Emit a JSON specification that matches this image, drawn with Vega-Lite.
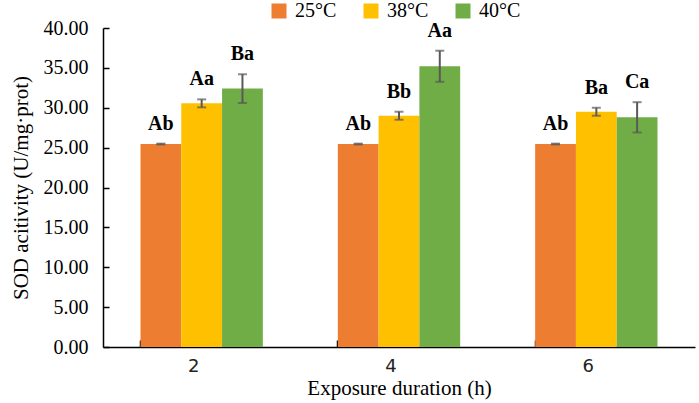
{
  "$schema": "https://vega.github.io/schema/vega-lite/v6.json",
  "width": 592,
  "height": 319,
  "autosize": "none",
  "padding": {"left": 103, "top": 28, "right": 4, "bottom": 56},
  "background": "white",
  "config": {
    "font": "Liberation Serif",
    "view": {"stroke": null},
    "axis": {"grid": false, "domainColor": "black", "domainWidth": 1.5, "tickColor": "black", "tickWidth": 1.5},
    "legend": {"labelFont": "Liberation Serif"}
  },
  "data": {
    "values": [
      {"Duration": "2", "Temp": "25°C", "SOD": 25.45, "low": 25.4, "high": 25.5, "Sig": "Ab"},
      {"Duration": "2", "Temp": "38°C", "SOD": 30.55, "low": 30.05, "high": 31.05, "Sig": "Aa"},
      {"Duration": "2", "Temp": "40°C", "SOD": 32.4, "low": 30.6, "high": 34.2, "Sig": "Ba"},
      {"Duration": "4", "Temp": "25°C", "SOD": 25.45, "low": 25.4, "high": 25.5, "Sig": "Ab"},
      {"Duration": "4", "Temp": "38°C", "SOD": 29.0, "low": 28.5, "high": 29.5, "Sig": "Bb"},
      {"Duration": "4", "Temp": "40°C", "SOD": 35.2, "low": 33.25, "high": 37.15, "Sig": "Aa"},
      {"Duration": "6", "Temp": "25°C", "SOD": 25.45, "low": 25.4, "high": 25.5, "Sig": "Ab"},
      {"Duration": "6", "Temp": "38°C", "SOD": 29.5, "low": 29.0, "high": 30.0, "Sig": "Ba"},
      {"Duration": "6", "Temp": "40°C", "SOD": 28.8, "low": 26.9, "high": 30.7, "Sig": "Ca"}
    ]
  },
  "encoding": {
    "x": {
      "field": "Duration",
      "type": "nominal",
      "title": "Exposure duration (h)",
      "scale": {"paddingInner": 0.38, "paddingOuter": 0.19},
      "axis": {
        "labelAngle": 0,
        "labelFont": "DejaVu Sans",
        "labelFontSize": 18,
        "labelColor": "#222222",
        "labelOffset": -8,
        "labelPadding": 17,
        "bandPosition": 0,
        "tickSize": -7,
        "titleFont": "Liberation Serif",
        "titleFontSize": 21,
        "titleFontWeight": "normal",
        "titleColor": "black",
        "titlePadding": 2
      }
    },
    "xOffset": {"field": "Temp", "type": "nominal", "scale": {"paddingInner": 0}}
  },
  "layer": [
    {
      "mark": {"type": "bar"},
      "encoding": {
        "y": {
          "field": "SOD",
          "type": "quantitative",
          "title": "SOD acitivity (U/mg·prot)",
          "scale": {"domain": [0, 40]},
          "axis": {
            "values": [0, 5, 10, 15, 20, 25, 30, 35, 40],
            "tickCount": 10,
            "labelOverlap": false,
            "format": ".2f",
            "labelFont": "Liberation Serif",
            "labelFontSize": 20,
            "labelColor": "black",
            "labelPadding": 21,
            "tickSize": -6,
            "titleFont": "Liberation Serif",
            "titleFontSize": 21,
            "titleFontWeight": "normal",
            "titleColor": "black",
            "titlePadding": 12
          }
        },
        "color": {
          "field": "Temp",
          "type": "nominal",
          "scale": {"domain": ["25°C", "38°C", "40°C"], "range": ["#ED7D31", "#FFC000", "#70AD47"]},
          "legend": {
            "title": null,
            "orient": "none",
            "direction": "horizontal",
            "legendX": 166,
            "legendY": -27,
            "symbolType": "square",
            "symbolSize": 225,
            "symbolStrokeWidth": 0,
            "labelFont": "Liberation Serif",
            "labelFontSize": 20,
            "labelColor": "black",
            "labelOffset": 6,
            "columnPadding": 24
          }
        }
      }
    },
    {
      "mark": {"type": "rule", "color": "#595959", "strokeWidth": 2},
      "encoding": {
        "y": {"field": "low", "type": "quantitative"},
        "y2": {"field": "high"}
      }
    },
    {
      "mark": {"type": "tick", "color": "#595959", "thickness": 2, "size": 9},
      "encoding": {"y": {"field": "low", "type": "quantitative"}}
    },
    {
      "mark": {"type": "tick", "color": "#595959", "thickness": 2, "size": 9},
      "encoding": {"y": {"field": "high", "type": "quantitative"}}
    },
    {
      "mark": {"type": "text", "font": "Liberation Serif", "fontWeight": "bold", "fontSize": 20, "baseline": "middle", "dy": -20, "color": "black"},
      "encoding": {
        "y": {"field": "high", "type": "quantitative"},
        "text": {"field": "Sig"}
      }
    }
  ]
}
